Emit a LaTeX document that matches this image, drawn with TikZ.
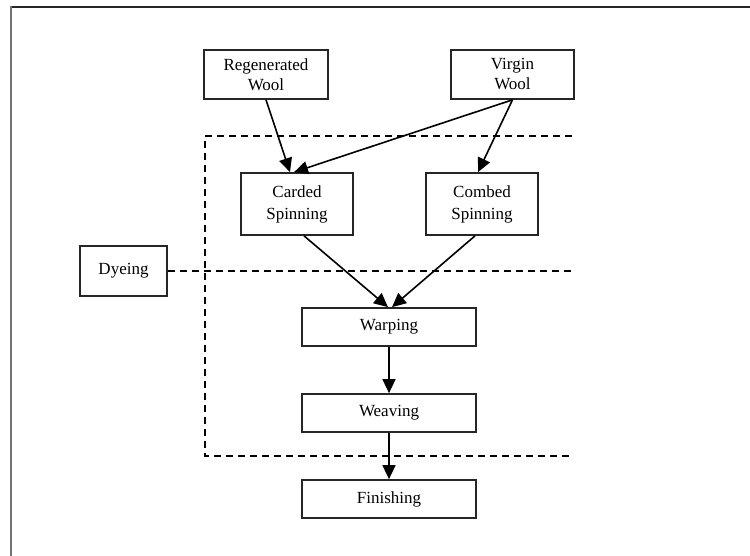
\documentclass[tikz,border=0pt]{standalone}
\usepackage{fontspec}
\setmainfont{Liberation Serif}
\usetikzlibrary{arrows.meta}
\begin{document}
\begin{tikzpicture}[x=1pt,y=-1pt,
  box/.style={draw=black!85,line width=1.7pt,fill=white,align=center,inner sep=0pt,
    font=\fontsize{17}{20}\selectfont},
  arr/.style={draw=black,line width=1.6pt,-{Triangle[length=14pt,width=13pt]}},
  dsh/.style={draw=black,line width=1.7pt,dash pattern=on 7pt off 5pt},
  frameline/.style={line width=2pt}]
\useasboundingbox (0,0) rectangle (750,556);
\fill[white] (0,0) rectangle (750,556);
% outer frame (top and left only)
\draw[frameline,draw=black!85] (10,7) -- (750,7);
\draw[frameline,draw=black!55] (11,6) -- (11,556);
% dashed region
\draw[dsh] (572,136) -- (205,136) -- (205,456) -- (572,456);
% nodes
\node[box,minimum width=124pt,minimum height=49pt] (regen) at (266,74.5) {Regenerated\\Wool};
\node[box,minimum width=123pt,minimum height=49pt] (virgin) at (512.5,74.5) {Virgin\\Wool};
\node[box,minimum width=112pt,minimum height=62pt,font=\fontsize{17}{22}\selectfont] (carded) at (297,204) {Carded\\Spinning};
\node[box,minimum width=112pt,minimum height=62pt,font=\fontsize{17}{22}\selectfont] (combed) at (482,204) {Combed\\Spinning};
\node[box,minimum width=87pt,minimum height=50pt] (dyeing) at (123.5,271) {Dyeing};
\node[box,minimum width=174pt,minimum height=38pt] (warping) at (389,327) {Warping};
\node[box,minimum width=174pt,minimum height=38pt] (weaving) at (389,413) {Weaving};
\node[box,minimum width=174pt,minimum height=38pt] (finishing) at (389,499) {Finishing};
% dyeing dashed line
\coordinate (dyeend) at (572,271);
\draw[dsh] (dyeing.east) -- (dyeend);
% connectors
\draw[arr] (regen.south) -- ([xshift=-7pt]carded.north);
\draw[arr] (virgin.south) -- ([xshift=-3pt]carded.north);
\draw[arr] (virgin.south) -- ([xshift=-4pt]combed.north);
\draw[arr] ([xshift=7pt]carded.south) -- ([xshift=-1pt]warping.north);
\draw[arr] ([xshift=-7pt]combed.south) -- ([xshift=3pt]warping.north);
\draw[arr] (warping.south) -- (weaving.north);
\draw[arr] (weaving.south) -- (finishing.north);
\end{tikzpicture}
\end{document}
